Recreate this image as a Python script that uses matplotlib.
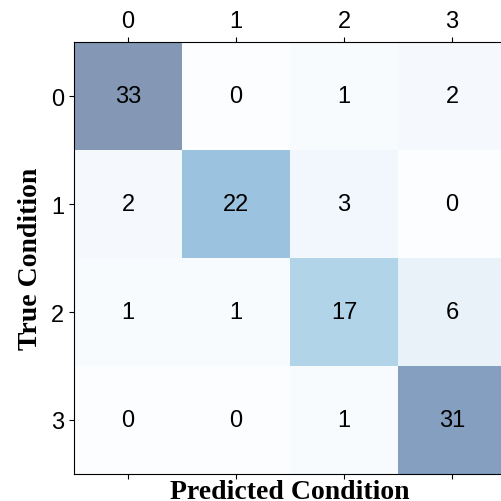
import numpy as np
import matplotlib
matplotlib.use('Agg')
import matplotlib.pyplot as plt

classes = ['0', '1', '2', '3']
cm = np.array([[33, 0, 1, 2],
               [2, 22, 3, 0],
               [1, 1, 17, 6],
               [0, 0, 1, 31]])

fig = plt.figure(figsize=(5.02, 5.02), dpi=100)
ax = fig.add_axes([74 / 502, 27 / 502, 432 / 502, 432 / 502])
ax.matshow(cm, cmap=plt.cm.Blues, alpha=0.5, aspect='auto')

for i in range(cm.shape[0]):
    for j in range(cm.shape[1]):
        ax.text(j, i, str(cm[i, j]), ha='center', va='center',
                fontsize=17, family='Liberation Sans')

ax.set_xticks(range(len(classes)))
ax.set_yticks(range(len(classes)))
ax.set_xticklabels(classes, fontsize=17, family='Liberation Sans')
ax.set_yticklabels(classes, fontsize=17, family='Liberation Sans')
ax.tick_params(axis='x', top=True, bottom=True, labeltop=True, labelbottom=False)

ax.set_xlabel('Predicted Condition', fontsize=20, fontweight='bold', family='Liberation Serif', labelpad=0)
ax.set_ylabel('True Condition', fontsize=20, fontweight='bold', family='Liberation Serif', labelpad=6)

fig.savefig('out.png', dpi=100)
